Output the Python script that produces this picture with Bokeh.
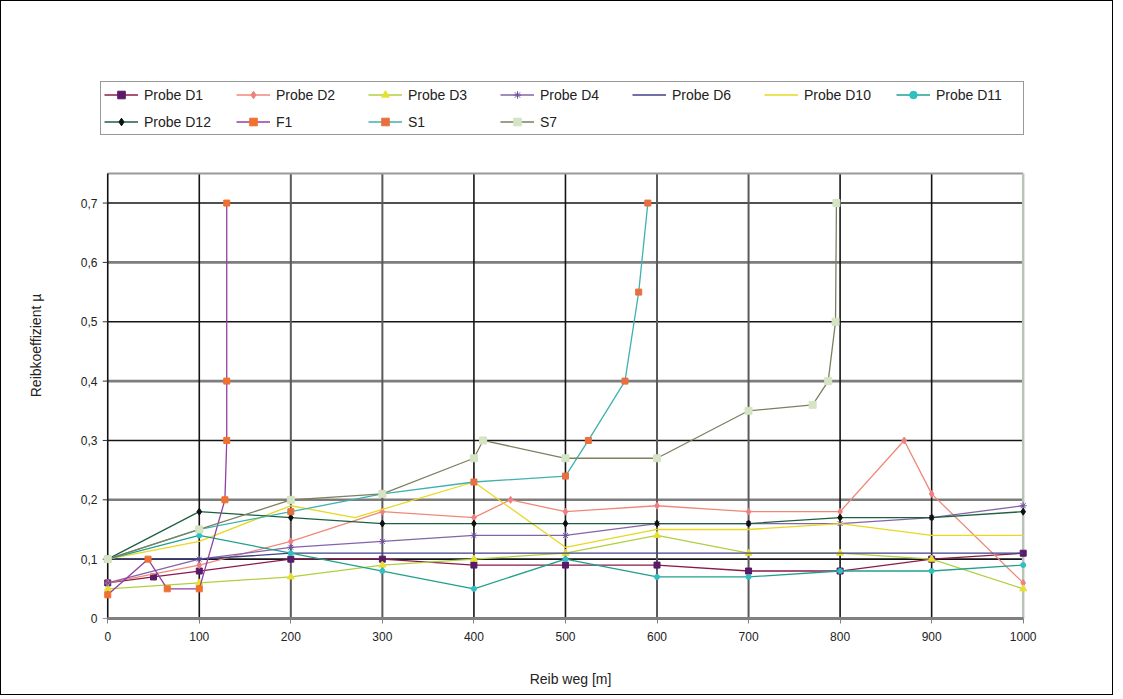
from bokeh.plotting import figure
from bokeh.models import Legend, LegendItem, FixedTicker
from bokeh.embed import file_html
from bokeh.resources import INLINE

# ---------------- data ----------------
x_std = [0, 100, 200, 300, 400, 500, 600, 700, 800, 900, 1000]

d1_x = [0, 50, 100, 200, 300, 400, 500, 600, 700, 800, 900, 1000]
d1_y = [0.06, 0.07, 0.08, 0.10, 0.10, 0.09, 0.09, 0.09, 0.08, 0.08, 0.10, 0.11]

d2_x = [0, 100, 200, 300, 400, 440, 500, 600, 700, 800, 870, 900, 1000]
d2_y = [0.06, 0.09, 0.13, 0.18, 0.17, 0.20, 0.18, 0.19, 0.18, 0.18, 0.30, 0.21, 0.06]

d3_y = [0.05, 0.06, 0.07, 0.09, 0.10, 0.11, 0.14, 0.11, 0.11, 0.10, 0.05]
d4_y = [0.06, 0.10, 0.12, 0.13, 0.14, 0.14, 0.16, 0.16, 0.16, 0.17, 0.19]
d6_y = [0.10, 0.10, 0.11, 0.11, 0.11, 0.11, 0.11, 0.11, 0.11, 0.11, 0.11]

d10_x = [0, 100, 200, 270, 400, 500, 600, 700, 800, 900, 1000]
d10_y = [0.10, 0.13, 0.19, 0.17, 0.23, 0.12, 0.15, 0.15, 0.16, 0.14, 0.14]

d11_y = [0.10, 0.14, 0.11, 0.08, 0.05, 0.10, 0.07, 0.07, 0.08, 0.08, 0.09]
d12_y = [0.10, 0.18, 0.17, 0.16, 0.16, 0.16, 0.16, 0.16, 0.17, 0.17, 0.18]

f1_x = [0, 44, 65, 100, 128, 130, 130, 130]
f1_y = [0.04, 0.10, 0.05, 0.05, 0.20, 0.30, 0.40, 0.70]

s1_x = [0, 100, 200, 300, 400, 500, 525, 565, 580, 590]
s1_y = [0.10, 0.15, 0.18, 0.21, 0.23, 0.24, 0.30, 0.40, 0.55, 0.70]

s7_x = [0, 100, 200, 300, 400, 410, 500, 600, 700, 770, 787, 795, 796]
s7_y = [0.10, 0.15, 0.20, 0.21, 0.27, 0.30, 0.27, 0.27, 0.35, 0.36, 0.40, 0.50, 0.70]

y_ticks = [0, 0.1, 0.2, 0.3, 0.4, 0.5, 0.6, 0.7]
y_labels = ["0", "0,1", "0,2", "0,3", "0,4", "0,5", "0,6", "0,7"]
y_top = 0.75            # top of the plot area
x_end = 1000            # right end of the plot area
y_grid_dark = [0.1, 0.3, 0.5, 0.7]
y_grid_gray = [0.2, 0.4, 0.6]
x_grid_dark = [100, 400, 500, 800, 900]
x_grid_gray = [200, 300, 600, 700]

FONT = "Liberation Sans"

p = figure(width=1113, height=695, x_range=(-9, 1020), y_range=(0, 0.92),
           output_backend="svg", toolbar_location=None,
           min_border_left=98, min_border_right=73,
           min_border_top=71, min_border_bottom=78)
p.styles = {"border": "1px solid #000"}
p.background_fill_color = "white"
p.border_fill_color = "white"
p.outline_line_color = None
p.xgrid.visible = False
p.ygrid.visible = False

# grid lines limited to the plot area
def hlines(ys, color, width):
    p.segment(x0=[0] * len(ys), y0=ys, x1=[x_end] * len(ys), y1=ys,
              line_color=color, line_width=width)

def vlines(xs, color, width):
    p.segment(x0=xs, y0=[0] * len(xs), x1=xs, y1=[y_top] * len(xs),
              line_color=color, line_width=width)

hlines(y_grid_gray, "#7d7d7d", 2.6)
hlines(y_grid_dark, "#151515", 1.6)
vlines(x_grid_gray, "#5a5a5a", 2.0)
vlines(x_grid_dark, "#151515", 1.6)
hlines([y_top], "#9a9a9a", 2.0)            # top border
vlines([x_end], "#b8c4b8", 2.5)            # right border
vlines([0], "#111111", 1.6)                # y axis line
tick_len = 5 / 0.9155                      # 5 px expressed in x units
p.segment(x0=[-tick_len] * len(y_ticks), y0=y_ticks, x1=[0] * len(y_ticks),
          y1=y_ticks, line_color="#333333", line_width=1)

# axes
p.xaxis.ticker = FixedTicker(ticks=x_std)
p.xaxis.bounds = (0, x_end)
p.yaxis.ticker = FixedTicker(ticks=y_ticks)
p.yaxis.major_label_overrides = dict(zip(y_ticks, y_labels))
for ax in (p.xaxis[0], p.yaxis[0]):
    ax.major_label_text_font = FONT
    ax.major_label_text_font_size = "12px"
    ax.major_label_text_color = "#222222"
    ax.axis_label_text_font = FONT
    ax.axis_label_text_font_size = "14px"
    ax.axis_label_text_font_style = "normal"
    ax.axis_label_text_color = "#222222"
    ax.minor_tick_line_color = None
    ax.major_tick_in = 0
p.xaxis.major_tick_out = 5
p.xaxis.axis_line_color = "#808080"
p.xaxis.axis_line_width = 3
p.xaxis.major_tick_line_color = "#808080"
p.xaxis.major_label_standoff = 8
p.yaxis.axis_line_color = None
p.yaxis.major_tick_line_color = None
p.yaxis.major_tick_out = 0
p.yaxis.major_label_standoff = 2
p.xaxis.axis_label = "Reib weg [m]"
p.yaxis.axis_label = "Reibkoeffizient µ"
p.xaxis.axis_label_standoff = 27
p.yaxis.axis_label_standoff = 34

LW = 1.3
series = [
    ("Probe D1", d1_x, d1_y, "#8b1a4a", "square", "#5a1a6a", 6),
    ("Probe D2", d2_x, d2_y, "#f08878", "diamond", "#f08080", 7),
    ("Probe D3", x_std, d3_y, "#b0d040", "triangle", "#e8e030", 7),
    ("Probe D4", x_std, d4_y, "#8464a8", "asterisk", "#7050a0", 7),
    ("Probe D6", x_std, d6_y, "#404088", None, None, 0),
    ("Probe D10", d10_x, d10_y, "#e8d820", None, None, 0),
    ("Probe D11", x_std, d11_y, "#20a08c", "circle", "#30c0c0", 5),
    ("Probe D12", x_std, d12_y, "#1e6040", "diamond", "#101010", 7),
    ("F1", f1_x, f1_y, "#9040a0", "square", "#f07030", 6),
    ("S1", s1_x, s1_y, "#40b0b0", "square", "#e87040", 6),
    ("S7", s7_x, s7_y, "#7e7e60", "square", "#d4e4c4", 7),
]

items = []
for name, xs, ys, lc, mk, mc, ms in series:
    rs = [p.line(xs, ys, line_color=lc, line_width=LW)]
    if mk is not None:
        rs.append(p.scatter(xs, ys, marker=mk, size=ms, fill_color=mc,
                            line_color=mc, line_width=1))
    items.append(LegendItem(label=name, renderers=rs))

legend = Legend(items=items, ncols=7, orientation="horizontal", location=(1, 483),
                label_text_font=FONT, label_text_font_size="14px",
                label_text_color="#222222",
                glyph_width=34, glyph_height=19, label_height=19,
                label_width=84, label_standoff=6, spacing=8,
                padding=3, margin=0,
                border_line_color="#333333", border_line_width=1.5,
                background_fill_color="white", background_fill_alpha=1.0)
p.add_layout(legend, "center")

open("out.html", "w").write(file_html(p, INLINE))
